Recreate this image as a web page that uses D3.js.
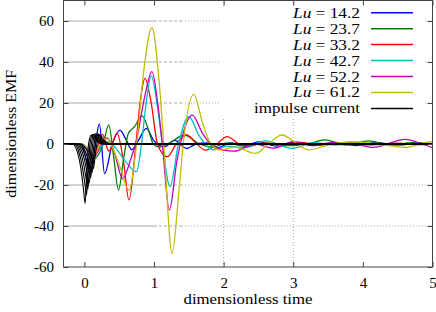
<!DOCTYPE html>
<html><head><meta charset="utf-8">
<script src="https://cdn.jsdelivr.net/npm/d3@7"></script>
<style>
body{margin:0;background:#fff}
svg{display:block}
</style>
</head><body><svg id="c" width="436" height="312"></svg>
<script>
// ---------- data ----------
const xTicks = [0, 1, 2, 3, 4, 5];
const yTicks = [-60, -40, -20, 0, 20, 40, 60];
const gridY = [-40, -20, 20, 40, 60];
const gridX = [2, 3];
const luLabels = ["14.2", "23.7", "33.2", "42.7", "52.2", "61.2"];
const luColors = ["#0000ff", "#008000", "#ff0000", "#00bfbf", "#bf00bf", "#bfbf00"];

const lu142 = [[-0.3,0],[-0.05,0],[0.0,-4],[0.08,-14.5],[0.15,-2],[0.215,9.8],[0.29,-14.5],[0.4,0],[0.51,6.8],[0.6,2],[0.68,-2.8],[0.78,2],[0.89,7.6],[1.0,1.5],[1.15,-1.3],[1.3,1.8],[1.47,-2.2],[1.6,0],[1.76,0.5],[1.9,-2],[2.1,0.5],[2.3,-0.8],[2.5,1],[2.75,-1],[3.0,0.8],[3.3,-0.8],[3.6,0.6],[3.9,-0.8],[4.2,0.6],[4.5,-0.5],[4.8,0.4],[5,0]];
const lu237 = [[-0.3,0],[-0.05,0],[0.05,-3],[0.15,-7],[0.27,0],[0.35,9.3],[0.42,-6],[0.49,-22.6],[0.56,-8],[0.63,5],[0.72,8.5],[0.83,13.7],[0.92,7],[0.99,0],[1.08,-1.5],[1.22,0.5],[1.44,4.4],[1.65,0],[1.85,-1.5],[2.05,0.5],[2.3,-1],[2.6,0.5],[2.9,-0.8],[3.2,0],[3.46,2],[3.75,-0.5],[4.08,1.5],[4.4,-0.5],[4.7,0.6],[5,0]];
const lu332 = [[-0.3,0],[-0.05,0],[0.05,-3],[0.13,-6],[0.2,0],[0.26,4.7],[0.35,-3.5],[0.47,5.2],[0.56,-8],[0.64,-27.3],[0.74,0],[0.8,20],[0.87,32],[0.96,20],[1.05,0],[1.19,-6.2],[1.32,0],[1.47,4.4],[1.6,0.5],[1.74,-3],[1.9,0],[2.05,3.6],[2.2,0.5],[2.35,-1.3],[2.55,0.5],[2.8,-0.6],[3.1,0.8],[3.4,-0.5],[3.75,0.6],[4.1,-0.4],[4.5,0.4],[4.8,-0.3],[5,0]];
const lu427 = [[-0.3,0],[-0.05,0],[0.05,-2],[0.15,-5],[0.25,-1],[0.35,1],[0.45,-2],[0.58,-8],[0.75,-13.5],[0.82,0],[0.88,18],[0.96,33.2],[1.05,18],[1.12,0],[1.23,-20.8],[1.35,0],[1.5,13.3],[1.65,4],[1.85,-2.8],[2.05,-1],[2.3,-1.8],[2.6,1.5],[2.98,-2.1],[3.3,0.6],[3.6,-0.5],[4.0,0.6],[4.4,-0.8],[4.8,0.3],[5,0]];
const lu522 = [[-0.3,0],[-0.05,0],[0.05,-3],[0.15,-6],[0.25,1],[0.33,3],[0.43,-4],[0.55,-17],[0.66,-8],[0.75,2],[0.86,22],[0.97,35.3],[1.06,18],[1.12,0],[1.22,-32.2],[1.33,-8],[1.4,3],[1.55,14.1],[1.7,5],[1.85,-1],[2.15,-3.5],[2.45,0],[2.72,-2],[3.0,1.2],[3.3,-0.3],[3.6,0.8],[3.9,0],[4.14,-1.6],[4.61,2.3],[4.85,0],[5,-1.8]];
const lu612 = [[-0.3,0],[-0.05,0],[0.05,-2],[0.15,-5],[0.25,1.5],[0.33,2.5],[0.42,-3],[0.52,-12],[0.64,-22.6],[0.75,0],[0.85,35],[0.97,56.8],[1.07,32],[1.14,0],[1.26,-53.3],[1.36,-22],[1.42,0],[1.57,24.2],[1.7,10],[1.8,1],[1.95,-3],[2.15,-1.5],[2.46,-4.6],[2.64,0],[2.84,4.4],[3.02,1],[3.22,-2.9],[3.5,-0.5],[3.85,1.1],[4.2,0],[4.61,-1.6],[4.98,1.1],[5,1.1]];

const imp0 = [[-0.3,0],[-0.17,0],[-0.1,-4],[-0.05,-12],[-0.01,-23],[0.01,-29],[0.035,-14],[0.06,0],[0.1,4.4],[0.17,1.5],[0.27,0],[5,0]];
const imp1 = [[-0.3,0],[-0.15,0],[-0.08,-3.8],[-0.03,-11],[0.01,-20],[0.03,-25],[0.055,-12],[0.08,0],[0.12,4.6],[0.19,1.5],[0.29,0],[5,0]];
const imp2 = [[-0.3,0],[-0.13,0],[-0.06,-3.5],[-0.01,-10],[0.03,-18],[0.05,-22],[0.075,-10.5],[0.1,0],[0.14,4.8],[0.21,1.5],[0.31,0],[5,0]];
const imp3 = [[-0.3,0],[-0.11,0],[-0.04,-3.2],[0.01,-9],[0.05,-16],[0.07,-19],[0.095,-9],[0.12,0],[0.16,5],[0.23,1.5],[0.33,0],[5,0]];
const imp4 = [[-0.3,0],[-0.09,0],[-0.02,-2.9],[0.03,-8],[0.07,-14],[0.09,-16.5],[0.115,-8],[0.14,0],[0.18,5],[0.25,1.5],[0.35,0],[5,0]];
const imp5 = [[-0.3,0],[-0.07,0],[0.0,-2.6],[0.05,-7],[0.09,-12],[0.11,-14],[0.135,-6.8],[0.16,0],[0.2,4.8],[0.27,1.5],[0.37,0],[5,0]];
const imp6 = [[-0.3,0],[-0.05,0],[0.02,-2.2],[0.07,-6],[0.11,-10],[0.13,-12],[0.155,-5.8],[0.18,0],[0.22,4.5],[0.29,1.5],[0.39,0],[5,0]];

const luSeries = [lu142, lu237, lu332, lu427, lu522, lu612];
const impulseSeries = [imp0, imp1, imp2, imp3, imp4, imp5, imp6];

// ---------- drawing ----------
const FONT = "Liberation Serif";
const svg = d3.select("#c");
const L = 63.5, R = 432.5, T = 0.5, B = 267;
const x = d3.scaleLinear().domain([-0.3, 5]).range([L, R]);
const y = d3.scaleLinear().domain([-60, 70]).range([B, T]);

function serif(sel, size) {
  return sel.attr("font-family", FONT).style("font-family", `"${FONT}"`).style("font-size", size + "px").attr("fill", "#000");
}

svg.append("defs").append("clipPath").attr("id", "clip")
  .append("rect").attr("x", L).attr("y", T).attr("width", R - L).attr("height", B - T);

const grid = svg.append("g").attr("stroke", "#a8a8a8").attr("stroke-width", 1).attr("fill", "none");
gridY.forEach(v => {
  grid.append("line").attr("x1", x(-0.3)).attr("x2", x(1)).attr("y1", y(v)).attr("y2", y(v));
  grid.append("line").attr("x1", x(1)).attr("x2", x(1.4)).attr("y1", y(v)).attr("y2", y(v)).attr("stroke-dasharray", "3,2");
  grid.append("line").attr("x1", x(1.4)).attr("x2", x(5)).attr("y1", y(v)).attr("y2", y(v)).attr("stroke-dasharray", "1,2");
});
gridX.forEach(v => {
  grid.append("line").attr("x1", x(v)).attr("x2", x(v)).attr("y1", y(-60)).attr("y2", y(70)).attr("stroke-dasharray", "1,2");
});

const line = d3.line().x(d => x(d[0])).y(d => y(d[1])).curve(d3.curveMonotoneX);
const plot = svg.append("g").attr("clip-path", "url(#clip)").attr("fill", "none");
luSeries.forEach((s, i) => {
  plot.append("path").attr("d", line(s)).attr("stroke", luColors[i]).attr("stroke-width", 1.3);
});
impulseSeries.forEach(s => {
  plot.append("path").attr("d", line(s)).attr("stroke", "#000").attr("stroke-width", 1.1);
});

// legend box
const lg = svg.append("g");
lg.append("rect").attr("x", 220).attr("y", 6).attr("width", 205).attr("height", 112).attr("fill", "#fff");
const rowY = i => 12.7 + i * 15.95;
const entries = luLabels.map((l, i) => ({lu: l, color: luColors[i]})).concat([{lu: null, color: "#000"}]);
entries.forEach((e, i) => {
  const t = serif(lg.append("text").attr("x", 360).attr("y", rowY(i) + 5).attr("text-anchor", "end"), 15.5)
    .attr("lengthAdjust", "spacingAndGlyphs");
  if (e.lu) {
    t.attr("textLength", 67);
    t.append("tspan").attr("font-style", "italic").style("font-style", "italic").text("Lu");
    t.append("tspan").text(" = " + e.lu);
  } else {
    t.attr("textLength", 106).text("impulse current");
  }
  lg.append("line").attr("x1", 371).attr("x2", 413).attr("y1", rowY(i)).attr("y2", rowY(i))
    .attr("stroke", e.color).attr("stroke-width", 1.5);
});

// axes
const tickCol = "#444";
const ax = svg.append("g").attr("transform", `translate(0,${B})`)
  .call(d3.axisBottom(x).tickValues(xTicks).tickFormat(d => String(d)).tickSizeInner(-5).tickSizeOuter(0).tickPadding(10.5));
const ay = svg.append("g").attr("transform", `translate(${L},0)`)
  .call(d3.axisLeft(y).tickValues(yTicks).tickFormat(d => String(d)).tickSizeInner(-5).tickSizeOuter(0).tickPadding(9.5));
const at = svg.append("g").attr("transform", `translate(0,${T})`)
  .call(d3.axisTop(x).tickValues(xTicks).tickFormat("").tickSizeInner(-5).tickSizeOuter(0));
const ar = svg.append("g").attr("transform", `translate(${R},0)`)
  .call(d3.axisRight(y).tickValues(yTicks).tickFormat("").tickSizeInner(-5).tickSizeOuter(0));
[ax, ay, at, ar].forEach(g => {
  g.attr("font-family", FONT).attr("font-size", 15);
  g.select(".domain").remove();
  g.selectAll("line").attr("stroke", tickCol);
  serif(g.selectAll("text"), 15);
});

svg.append("rect").attr("x", L).attr("y", T).attr("width", R - L).attr("height", B - T)
  .attr("fill", "none").attr("stroke", "#444").attr("stroke-width", 1);

// axis labels
serif(svg.append("text").attr("x", (L + R) / 2).attr("y", 304).attr("text-anchor", "middle"), 15.5)
  .attr("textLength", 129).attr("lengthAdjust", "spacingAndGlyphs").text("dimensionless time");
serif(svg.append("text").attr("transform", `translate(16,${(T + B) / 2}) rotate(-90)`).attr("text-anchor", "middle"), 15.5)
  .attr("textLength", 128).attr("lengthAdjust", "spacingAndGlyphs").text("dimensionless EMF");
</script>
</body></html>
